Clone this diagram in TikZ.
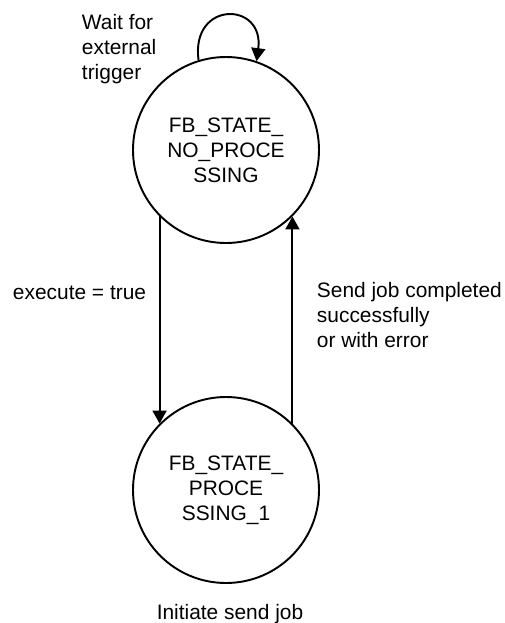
\documentclass[tikz,border=0pt]{standalone}
\usepackage{fontspec}
\setmainfont{Liberation Sans}
\usepackage{tikz}
\usetikzlibrary{arrows.meta,positioning}
\tikzset{
  every picture/.style={font=\fontsize{11.9}{14.2}\selectfont, line width=1.1pt},
  state/.style={draw, circle, minimum size=3.72cm, inner sep=0pt, align=center},
  arrow/.style={-{Triangle[length=0.26cm, width=0.28cm]}},
  note/.style={inner sep=0pt, align=left},
}
\begin{document}
\begin{tikzpicture}
  \useasboundingbox (0,0) rectangle (10.1,-12.46);

  \node[state] (nopro) at (4.52,-3.0) {FB\_STATE\_\\NO\_PROCE\\SSING};
  \node[state] (proc) at (4.52,-9.8) {FB\_STATE\_\\PROCE\\SSING\_1};

  \node[note, anchor=north west] (wait) at (1.62,-0.27) {Wait for\\external\\trigger};
  \node[note, anchor=base west] (exec) at (0.24,-5.98) {execute = true};
  \node[note, anchor=north west] (sent) at (6.32,-5.62) {Send job completed\\successfully\\or with error};
  \node[note, anchor=base] (init) at (4.6,-12.38) {Initiate send job};

  \draw[arrow] (nopro.107) .. controls +(-0.16,1.2) and +(0.16,1.2) .. (nopro.71);
  \draw[arrow] (nopro.south west) -- (proc.north west);
  \draw[arrow] (proc.north east) -- (nopro.south east);
\end{tikzpicture}
\end{document}
